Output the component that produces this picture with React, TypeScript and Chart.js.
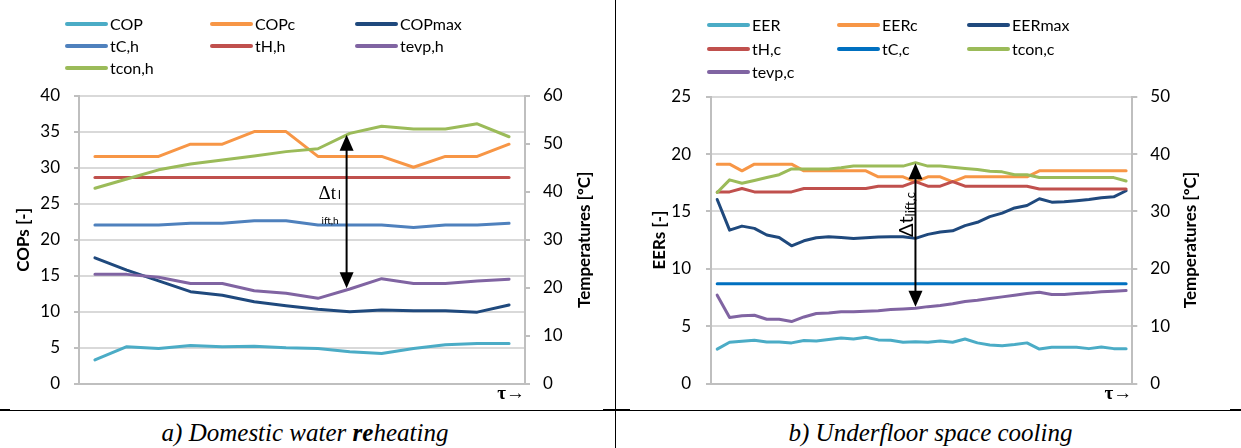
import React, { useEffect, useRef } from 'react';
import { Chart, registerables } from 'chart.js';

Chart.register(...registerables);

// ---------------- a) Domestic water reheating ----------------
const heatSteps = ['1', '2', '3', '4', '5', '6', '7', '8', '9', '10', '11', '12', '13', '14'];
const COP = [3.3, 5.15, 4.9, 5.3, 5.15, 5.2, 5.0, 4.9, 4.45, 4.2, 4.9, 5.4, 5.6, 5.6];
const COPc = [31.6, 31.6, 31.6, 33.3, 33.3, 35.05, 35.05, 31.6, 31.6, 31.6, 30.1, 31.6, 31.6, 33.3];
const COPmax = [17.5, 15.8, 14.3, 12.8, 12.3, 11.4, 10.85, 10.35, 10.0, 10.25, 10.15, 10.15, 9.95, 10.95];
const tC_h = [33.1, 33.1, 33.1, 33.45, 33.45, 34.0, 34.0, 33.1, 33.1, 33.1, 32.6, 33.1, 33.1, 33.45];
const tH_h = [43, 43, 43, 43, 43, 43, 43, 43, 43, 43, 43, 43, 43, 43];
const tevp_h = [22.8, 22.8, 22.2, 20.9, 20.9, 19.4, 18.85, 17.8, 19.75, 21.9, 20.9, 20.9, 21.4, 21.8];
const tcon_h = [40.75, 42.7, 44.6, 45.8, 46.65, 47.5, 48.4, 49.0, 52.2, 53.7, 53.1, 53.1, 54.2, 51.5];
const heatCopAxis = { min: 0, max: 40, step: 5 };
const heatTempAxis = { min: 0, max: 60, step: 10 };
// Δt_lift,h arrow: category position and temperatures at its two tips
const heatLiftAt = 7.9;
const heatLiftFrom = 19.9;
const heatLiftTo = 51.9;

// ---------------- b) Underfloor space cooling ----------------
const coolSteps = ['1', '2', '3', '4', '5', '6', '7', '8', '9', '10', '11', '12', '13', '14', '15', '16', '17',
  '18', '19', '20', '21', '22', '23', '24', '25', '26', '27', '28', '29', '30', '31', '32', '33', '34'];
const EER = [3.0, 3.6, 3.68, 3.77, 3.62, 3.62, 3.54, 3.74, 3.71, 3.83, 3.97, 3.88, 4.03, 3.8, 3.77, 3.6, 3.65,
  3.6, 3.71, 3.6, 3.88, 3.54, 3.36, 3.3, 3.39, 3.54, 3.0, 3.16, 3.16, 3.16, 3.04, 3.19, 3.04, 3.04];
const EERc = [19.12, 19.12, 18.54, 19.12, 19.12, 19.12, 19.12, 18.54, 18.54, 18.54, 18.54, 18.54, 18.54, 18.02,
  18.02, 18.02, 17.58, 18.02, 18.02, 17.58, 18.02, 18.02, 18.02, 18.02, 18.02, 18.02, 18.54, 18.54, 18.54, 18.54,
  18.54, 18.54, 18.54, 18.54];
const EERmax = [16.04, 13.37, 13.72, 13.52, 12.94, 12.73, 12.0, 12.44, 12.7, 12.79, 12.73, 12.65, 12.7, 12.76,
  12.79, 12.79, 12.65, 13.0, 13.2, 13.31, 13.76, 14.05, 14.55, 14.85, 15.3, 15.52, 16.1, 15.81, 15.84, 15.93,
  16.04, 16.19, 16.27, 16.8];
const tH_c = [33.4, 33.4, 34.0, 33.4, 33.4, 33.4, 33.4, 34.0, 34.0, 34.0, 34.0, 34.0, 34.0, 34.4, 34.4, 34.4,
  35.2, 34.4, 34.4, 35.2, 34.4, 34.4, 34.4, 34.4, 34.4, 34.4, 33.9, 33.9, 33.9, 33.9, 33.9, 33.9, 33.9, 33.9];
const tC_c = [17.4, 17.4, 17.4, 17.4, 17.4, 17.4, 17.4, 17.4, 17.4, 17.4, 17.4, 17.4, 17.4, 17.4, 17.4, 17.4,
  17.4, 17.4, 17.4, 17.4, 17.4, 17.4, 17.4, 17.4, 17.4, 17.4, 17.4, 17.4, 17.4, 17.4, 17.4, 17.4, 17.4, 17.4];
const tcon_c = [33.3, 35.5, 34.9, 35.4, 35.9, 36.4, 37.4, 37.4, 37.4, 37.4, 37.6, 37.9, 37.9, 37.9, 37.9, 37.9,
  38.5, 37.9, 37.9, 37.7, 37.5, 37.3, 37.0, 36.9, 36.4, 36.4, 35.9, 35.9, 35.9, 35.9, 35.9, 35.9, 35.9, 35.3];
const tevp_c = [15.4, 11.5, 11.8, 11.9, 11.2, 11.2, 10.8, 11.6, 12.2, 12.3, 12.5, 12.5, 12.6, 12.7, 12.9, 13.0,
  13.1, 13.4, 13.6, 13.9, 14.3, 14.5, 14.8, 15.1, 15.4, 15.7, 15.9, 15.5, 15.5, 15.7, 15.8, 16.0, 16.1, 16.2];
const coolEerAxis = { min: 0, max: 25, step: 5 };
const coolTempAxis = { min: 0, max: 50, step: 10 };
// Δt_lift,c arrow: category position and EER-axis values at its two tips
const coolLiftAt = 16;
const coolLiftFrom = 6.69;
const coolLiftTo = 19.2;

// ---------------- styling ----------------
const AQUA = '#4BACC6';
const ORANGE = '#F79646';
const NAVY = '#1F497D';
const BLUE = '#4F81BD';
const RED = '#C0504D';
const PURPLE = '#8064A2';
const GREEN = '#9BBB59';
const STRONG_BLUE = '#0070C0';
const GRID = '#d9d9d9';
const AXIS = '#bfbfbf';
const SANS = 'Lato, "Open Sans", sans-serif';
const SERIF = '"Liberation Serif", "DejaVu Serif", serif';

type Series = { label: string; data: number[]; color: string; axis: 'y' | 'y1' };

type PanelCfg = {
  width: number;
  height: number;
  labels: string[];
  series: Series[];
  leftAxis: { min: number; max: number; step: number };
  rightAxis: { min: number; max: number; step: number };
  top: number;
  yW: number;
  y1W: number;
  xH: number;
  yPad: number;
  y1Pad: number;
  legendX: number[];
  legendY: number[];
  leftTitle: string;
  leftTitleX: number;
  rightTitle: string;
  rightTitleX: number;
  arrow: { x: number; axis: 'y' | 'y1'; from: number; to: number };
  drawLabel: (ctx: CanvasRenderingContext2D, chart: any, ax: number) => void;
};

function rotText(ctx: CanvasRenderingContext2D, text: string, x: number, y: number, font: string) {
  ctx.save();
  ctx.translate(x, y);
  ctx.rotate(-Math.PI / 2);
  ctx.font = font;
  ctx.textAlign = 'center';
  ctx.textBaseline = 'middle';
  ctx.fillStyle = '#000';
  ctx.fillText(text, 0, 0);
  ctx.restore();
}

function decorPlugin(cfg: PanelCfg) {
  return {
    id: 'decor',
    afterDraw(chart: any) {
      const ctx: CanvasRenderingContext2D = chart.ctx;
      const ca = chart.chartArea;
      ctx.save();
      // legend (3 columns)
      chart.data.datasets.forEach((ds: any, i: number) => {
        const x = cfg.legendX[i % 3];
        const y = cfg.legendY[Math.floor(i / 3)];
        ctx.strokeStyle = ds.borderColor;
        ctx.lineWidth = 4;
        ctx.lineCap = 'round';
        ctx.beginPath();
        ctx.moveTo(x + 2, y);
        ctx.lineTo(x + 41, y);
        ctx.stroke();
        ctx.fillStyle = '#000';
        ctx.font = `16px ${SANS}`;
        ctx.textAlign = 'left';
        ctx.textBaseline = 'middle';
        ctx.fillText(ds.label, x + 45, y + 1);
      });
      // axis titles
      const cy = (ca.top + ca.bottom) / 2;
      rotText(ctx, cfg.leftTitle, cfg.leftTitleX, cy, `bold 17px ${SANS}`);
      rotText(ctx, cfg.rightTitle, cfg.rightTitleX, cy, `bold 17px ${SANS}`);
      // double-headed arrow
      const ys = chart.scales[cfg.arrow.axis];
      const ax = chart.scales.x.getPixelForValue(cfg.arrow.x);
      const yb = ys.getPixelForValue(cfg.arrow.from);
      const yt = ys.getPixelForValue(cfg.arrow.to);
      const hl = 16;
      const hw = 7;
      ctx.strokeStyle = '#000';
      ctx.fillStyle = '#000';
      ctx.lineWidth = 2;
      ctx.lineCap = 'butt';
      ctx.beginPath();
      ctx.moveTo(ax, yt + hl - 2);
      ctx.lineTo(ax, yb - hl + 2);
      ctx.stroke();
      ctx.beginPath();
      ctx.moveTo(ax, yt);
      ctx.lineTo(ax - hw, yt + hl);
      ctx.lineTo(ax + hw, yt + hl);
      ctx.closePath();
      ctx.fill();
      ctx.beginPath();
      ctx.moveTo(ax, yb);
      ctx.lineTo(ax - hw, yb - hl);
      ctx.lineTo(ax + hw, yb - hl);
      ctx.closePath();
      ctx.fill();
      cfg.drawLabel(ctx, chart, ax);
      ctx.restore();
    },
  };
}

function Panel({ cfg }: { cfg: PanelCfg }) {
  const ref = useRef<HTMLCanvasElement | null>(null);
  useEffect(() => {
    if (!ref.current) return;
    const n = cfg.series.length;
    const chart = new Chart(ref.current, {
      type: 'line',
      data: {
        labels: cfg.labels,
        datasets: cfg.series.map((s, i) => ({
          label: s.label,
          data: s.data,
          borderColor: s.color,
          backgroundColor: s.color,
          yAxisID: s.axis,
          order: n - i,
        })),
      },
      options: {
        animation: false,
        responsive: false,
        devicePixelRatio: 1,
        layout: { padding: { top: cfg.top, left: 0, right: 0, bottom: 0 } },
        plugins: { legend: { display: false }, tooltip: { enabled: false }, title: { display: false } },
        elements: {
          point: { radius: 0, hoverRadius: 0 },
          line: { tension: 0, borderWidth: 3, borderJoinStyle: 'round', borderCapStyle: 'round', fill: false },
        },
        scales: {
          x: {
            type: 'category',
            offset: true,
            grid: { display: false },
            border: { display: true, color: AXIS, width: 2 },
            ticks: { display: false },
            title: {
              display: true,
              text: 'τ→',
              align: 'end',
              color: '#000',
              font: { family: SERIF, size: 19, weight: 'bold' },
              padding: { top: 0, bottom: 5 },
            },
            afterFit: (s: any) => { s.height = cfg.xH; },
          },
          y: {
            position: 'left',
            min: cfg.leftAxis.min,
            max: cfg.leftAxis.max,
            ticks: { stepSize: cfg.leftAxis.step, padding: cfg.yPad, color: '#000', font: { family: SANS, size: 17 } },
            grid: { color: GRID, lineWidth: 2, drawTicks: true, tickLength: 5, tickColor: AXIS },
            border: { display: true, color: AXIS, width: 2 },
            afterFit: (s: any) => { s.width = cfg.yW; },
          },
          y1: {
            position: 'right',
            min: cfg.rightAxis.min,
            max: cfg.rightAxis.max,
            ticks: { stepSize: cfg.rightAxis.step, padding: cfg.y1Pad, color: '#000', font: { family: SANS, size: 17 } },
            grid: { drawOnChartArea: false, drawTicks: true, tickLength: 5, color: AXIS, lineWidth: 2 },
            border: { display: true, color: AXIS, width: 2 },
            afterFit: (s: any) => { s.width = cfg.y1W; },
          },
        },
      } as any,
      plugins: [decorPlugin(cfg)],
    });
    return () => chart.destroy();
  }, [cfg]);
  return <canvas ref={ref} width={cfg.width} height={cfg.height} style={{ display: 'block', width: cfg.width, height: cfg.height }} />;
}

const heatCfg: PanelCfg = {
  width: 615,
  height: 410,
  labels: heatSteps,
  series: [
    { label: 'COP', data: COP, color: AQUA, axis: 'y' },
    { label: 'COPc', data: COPc, color: ORANGE, axis: 'y' },
    { label: 'COPmax', data: COPmax, color: NAVY, axis: 'y' },
    { label: 'tC,h', data: tC_h, color: BLUE, axis: 'y1' },
    { label: 'tH,h', data: tH_h, color: RED, axis: 'y1' },
    { label: 'tevp,h', data: tevp_h, color: PURPLE, axis: 'y1' },
    { label: 'tcon,h', data: tcon_h, color: GREEN, axis: 'y1' },
  ],
  leftAxis: heatCopAxis,
  rightAxis: heatTempAxis,
  top: 96,
  yW: 79,
  y1W: 90,
  xH: 26.3,
  yPad: 14,
  y1Pad: 13,
  legendX: [65, 210, 355],
  legendY: [24, 46, 68],
  leftTitle: 'COPs [-]',
  leftTitleX: 23.5,
  rightTitle: 'Temperatures [ºC]',
  rightTitleX: 585,
  arrow: { x: heatLiftAt, axis: 'y1', from: heatLiftFrom, to: heatLiftTo },
  drawLabel: (ctx, chart, ax) => {
    const ys = chart.scales.y1;
    ctx.fillStyle = '#000';
    ctx.textAlign = 'left';
    ctx.textBaseline = 'alphabetic';
    ctx.font = `19px ${SERIF}`;
    ctx.fillText('Δt', ax - 28, ys.getPixelForValue(38.6));
    ctx.font = `12px ${SANS}`;
    ctx.fillText('l', ax - 8.5, ys.getPixelForValue(38.6));
    ctx.font = `10px ${SANS}`;
    ctx.fillText('ift,h', ax - 25, ys.getPixelForValue(33.3));
  },
};

const coolCfg: PanelCfg = {
  width: 626,
  height: 410,
  labels: coolSteps,
  series: [
    { label: 'EER', data: EER, color: AQUA, axis: 'y' },
    { label: 'EERc', data: EERc, color: ORANGE, axis: 'y' },
    { label: 'EERmax', data: EERmax, color: NAVY, axis: 'y' },
    { label: 'tH,c', data: tH_c, color: RED, axis: 'y1' },
    { label: 'tC,c', data: tC_c, color: STRONG_BLUE, axis: 'y1' },
    { label: 'tcon,c', data: tcon_c, color: GREEN, axis: 'y1' },
    { label: 'tevp,c', data: tevp_c, color: PURPLE, axis: 'y1' },
  ],
  leftAxis: coolEerAxis,
  rightAxis: coolTempAxis,
  top: 96.7,
  yW: 96,
  y1W: 108.7,
  xH: 26.5,
  yPad: 15,
  y1Pad: 13,
  legendX: [92, 222, 352],
  legendY: [25, 49, 72],
  leftTitle: 'EERs [-]',
  leftTitleX: 45,
  rightTitle: 'Temperatures [ºC]',
  rightTitleX: 575.7,
  arrow: { x: coolLiftAt, axis: 'y', from: coolLiftFrom, to: coolLiftTo },
  drawLabel: (ctx, chart, ax) => {
    const ys = chart.scales.y;
    ctx.save();
    ctx.translate(ax - 2.3, ys.getPixelForValue(12.76));
    ctx.rotate(-Math.PI / 2);
    ctx.fillStyle = '#000';
    ctx.textAlign = 'left';
    ctx.textBaseline = 'alphabetic';
    ctx.font = `20px ${SANS}`;
    ctx.fillText('Δt', 0, 0);
    const w = ctx.measureText('Δt').width;
    ctx.font = `13px ${SANS}`;
    ctx.fillText('lift,c', w, 2);
    ctx.restore();
  },
};

export default function App() {
  const captionStyle: React.CSSProperties = {
    position: 'absolute',
    top: 418,
    fontFamily: SERIF,
    fontStyle: 'italic',
    fontSize: 25,
    lineHeight: '30px',
    textAlign: 'center',
    color: '#000',
    whiteSpace: 'nowrap',
  };
  return (
    <div style={{ position: 'fixed', left: 0, top: 0, width: 1241, height: 448, background: '#fff', overflow: 'hidden' }}>
      <div style={{ position: 'absolute', left: 0, top: 0 }}>
        <Panel cfg={heatCfg} />
      </div>
      <div style={{ position: 'absolute', left: 615, top: 0 }}>
        <Panel cfg={coolCfg} />
      </div>
      <div style={{ position: 'absolute', left: 615, top: 0, width: 1, height: 448, background: '#000' }} />
      <div style={{ position: 'absolute', left: 0, top: 410, width: 1241, height: 1, background: '#000' }} />
      <div style={{ position: 'absolute', left: 0, top: 409, width: 10, height: 2, background: '#000' }} />
      <div style={{ position: 'absolute', left: 603, top: 409, width: 27, height: 2, background: '#000' }} />
      <div style={{ position: 'absolute', left: 1230, top: 409, width: 11, height: 2, background: '#000' }} />
      <div style={{ ...captionStyle, left: 0, width: 610 }}>
        a) Domestic water <b>re</b>heating
      </div>
      <div style={{ ...captionStyle, left: 620, width: 621 }}>
        b) Underfloor space cooling
      </div>
    </div>
  );
}
